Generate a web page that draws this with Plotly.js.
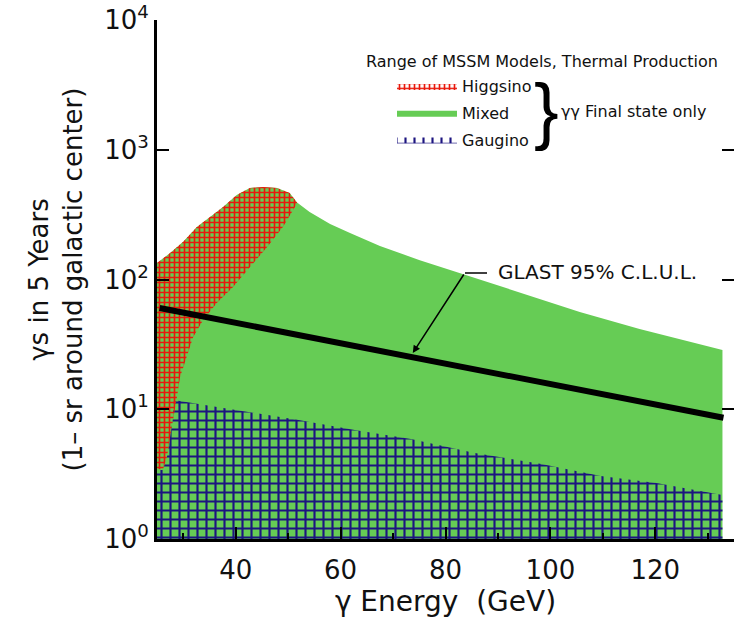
<!DOCTYPE html>
<html><head><meta charset="utf-8">
<script src="https://cdn.plot.ly/plotly-3.0.1.min.js"></script>
<style>html,body{margin:0;padding:0;background:#fff}</style>
</head><body><div id="chart" style="width:734px;height:627px"></div>
<script>
// Higgsino region: upper boundary (left to peak) and inner boundary (peak down to tip)
const higgsinoTopE = [25.0, 27.5, 30.0, 32.6, 35.1, 37.6, 40.2, 42.7, 45.2, 47.9, 50.3, 51.7];
const higgsinoTopV = [134, 160, 195, 254, 303, 362, 448, 507, 516, 507, 464, 392];
const higgsinoEdgeE = [51.3, 49.0, 46.0, 42.7, 39.5, 36.4, 33.8, 31.9, 30.7, 29.4, 28.8, 28.0, 27.5, 26.9, 26.1, 25.0];
const higgsinoEdgeV = [362, 254, 178, 125, 87.5, 65.9, 48.7, 36.0, 25.3, 17.7, 12.4, 8.26, 6.11, 4.29, 3.40, 3.5];
// Mixed region upper boundary (right of the Higgsino peak)
const mixedTopE = [54.1, 58.0, 61.8, 67.5, 75.1, 83.3, 94.1, 105.6, 117.0, 132.8];
const mixedTopV = [331, 268, 228, 181, 141, 110, 80.1, 56.2, 41.5, 28.6];
// Gaugino region upper boundary
const gauginoTopE = [25.0, 26.1, 26.9, 27.5, 28.0, 28.2, 39.3, 52.0, 62.7, 73.4, 85.6, 98.3, 109.6, 120.2, 132.8];
const gauginoTopV = [3.4, 3.4, 4.29, 6.11, 8.26, 11.8, 10.0, 8.26, 6.92, 5.90, 4.60, 3.78, 3.06, 2.70, 2.18];
// GLAST 95% C.L. upper limit
const glastE = [25.5, 40, 60, 80, 100, 120, 133];
const glastV = [60.3, 46.4, 32.2, 22.4, 15.6, 10.8, 8.6];
const floorV = 1;
const yTickVals = [1, 10, 100, 1000, 10000];
const yTickText = ['10<sup>0</sup>', '10<sup>1</sup>', '10<sup>2</sup>', '10<sup>3</sup>', '10<sup>4</sup>'];
const xTickVals = [40, 60, 80, 100, 120];

const F = 'DejaVu Sans, Liberation Sans, Arial, sans-serif';
const GREEN = '#66cc55';
const noLine = {width: 0, color: 'rgba(0,0,0,0)'};

const mixed = {
  x: [higgsinoTopE[0]].concat(higgsinoTopE, mixedTopE, [mixedTopE[mixedTopE.length - 1]]),
  y: [floorV].concat(higgsinoTopV, mixedTopV, [floorV]),
  mode: 'lines', fill: 'toself', fillcolor: GREEN, line: noLine,
  name: 'Mixed', legendgroup: 'b', legendrank: 2, hoverinfo: 'skip'
};
const gaugino = {
  x: [gauginoTopE[0]].concat(gauginoTopE, [gauginoTopE[gauginoTopE.length - 1]]),
  y: [floorV].concat(gauginoTopV, [floorV]),
  mode: 'lines', fill: 'toself', line: noLine,
  fillpattern: {shape: '+', fgcolor: '#1c1480', size: 9, solidity: 0.42},
  name: 'Gaugino', legendgroup: 'c', legendrank: 3, hoverinfo: 'skip'
};
const higgsino = {
  x: higgsinoTopE.concat(higgsinoEdgeE),
  y: higgsinoTopV.concat(higgsinoEdgeV),
  mode: 'lines', fill: 'toself', line: noLine,
  fillpattern: {shape: '+', fgcolor: '#e8180c', size: 5, solidity: 0.55},
  name: 'Higgsino', legendgroup: 'a', legendrank: 1, hoverinfo: 'skip'
};
const glast = {
  x: glastE, y: glastV, mode: 'lines', line: {color: '#000', width: 6},
  showlegend: false, hoverinfo: 'skip'
};
const rightTicks = {x: [glastE[0]], y: [glastV[0]], yaxis: 'y2', mode: 'markers',
  marker: {opacity: 0}, showlegend: false, hoverinfo: 'skip'};

const px = v => (v - 157) / 577;
const py = v => (539 - v) / 519;

const layout = {
  width: 734, height: 627,
  margin: {l: 157, r: 0, t: 20, b: 88},
  paper_bgcolor: '#fff', plot_bgcolor: '#fff',
  font: {family: F, color: '#111'},
  showlegend: true,
  legend: {x: px(392), y: py(69), xanchor: 'left', yanchor: 'top',
    font: {size: 16, family: F, color: '#111'}, bgcolor: 'rgba(0,0,0,0)',
    traceorder: 'grouped', tracegroupgap: 3, itemwidth: 60},
  xaxis: {range: [25, 135], tickvals: xTickVals, ticks: 'inside', ticklen: 12, tickwidth: 2,
    tickcolor: '#000', showline: true, linewidth: 3, linecolor: '#000', showgrid: false,
    zeroline: false, tickfont: {size: 26, family: F, color: '#111'}, ticklabelstandoff: 6,
    minor: {tickmode: 'linear', tick0: 30, dtick: 10, ticks: 'inside', ticklen: 6, tickwidth: 2, tickcolor: '#000', showgrid: false},
    title: {text: 'γ Energy\u00a0 (GeV)', font: {size: 28, family: F, color: '#111'}, standoff: 7}},
  yaxis: {type: 'log', range: [0, 4], tickvals: yTickVals, ticktext: yTickText, ticks: 'inside',
    ticklen: 12, tickwidth: 2, tickcolor: '#000', showline: true, linewidth: 3, linecolor: '#000',
    showgrid: false, zeroline: false, tickfont: {size: 26, family: F, color: '#111'},
    title: {text: 'γs in 5 Years<br>(1– sr around galactic center)', font: {size: 26, family: F, color: '#111'}, standoff: 15}},
  yaxis2: {type: 'log', range: [0, 4], overlaying: 'y', side: 'right', tickvals: [10, 100, 1000],
    ticks: 'inside', ticklen: 12, tickwidth: 2, tickcolor: '#000', showticklabels: false,
    showline: false, showgrid: false, zeroline: false},
  shapes: [
    {type: 'line', xref: 'paper', yref: 'paper', x0: px(465), x1: px(487), y0: py(273), y1: py(273),
     line: {color: '#000', width: 1.5}}
  ],
  annotations: [
    {xref: 'paper', yref: 'paper', x: px(364), y: py(62), xanchor: 'left', yanchor: 'middle',
     text: 'Range of MSSM Models, Thermal Production', showarrow: false, font: {size: 16, family: F, color: '#111'}},
    {xref: 'paper', yref: 'paper', x: px(546), y: py(110), xanchor: 'center', yanchor: 'middle',
     text: '}', showarrow: false, font: {size: 74, family: 'Liberation Sans, Arial', color: '#000'}},
    {xref: 'paper', yref: 'paper', x: px(559), y: py(112), xanchor: 'left', yanchor: 'middle',
     text: 'γγ Final state only', showarrow: false, font: {size: 16, family: F, color: '#111'}},
    {xref: 'paper', yref: 'paper', x: px(496), y: py(272), xanchor: 'left', yanchor: 'middle',
     text: 'GLAST 95% C.L.U.L.', showarrow: false, font: {size: 20, family: F, color: '#111'}},
    {x: 73.76, y: 1.4335, xref: 'x', yref: 'y', ax: 52, ay: -80, axref: 'pixel', ayref: 'pixel',
     text: '', showarrow: true, arrowhead: 2, arrowsize: 1, arrowwidth: 1.5, arrowcolor: '#000', standoff: 0}
  ]
};

Plotly.newPlot('chart', [mixed, gaugino, higgsino, glast, rightTicks], layout, {staticPlot: true, displayModeBar: false});
</script>
</body></html>
